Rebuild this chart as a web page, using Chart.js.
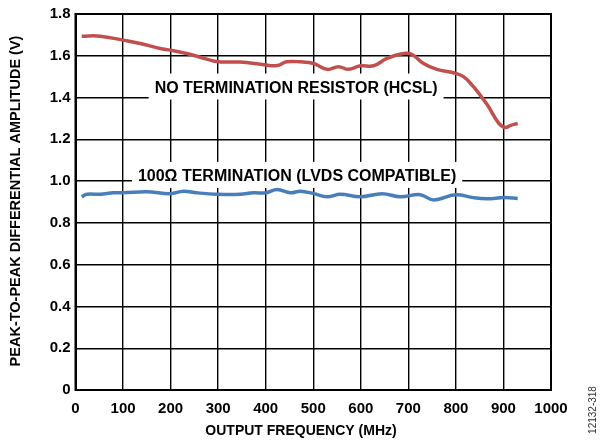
<!DOCTYPE html>
<html>
<head>
<meta charset="utf-8">
<script src="https://cdn.jsdelivr.net/npm/chart.js@4/dist/chart.umd.min.js"></script>
<style>
  html, body { margin: 0; padding: 0; background: #fff; }
  #wrap { width: 602px; height: 444px; position: relative; }
</style>
</head>
<body>
<div id="wrap"><canvas id="myChart" width="602" height="444"></canvas></div>
<script>
'use strict';

// no termination resistor (HCSL)
let hcslFreq = [13, 52, 100, 136, 178, 200, 234, 276, 300, 346, 400, 424, 444, 473, 501, 529, 553, 574, 599, 627, 655, 690, 708, 732, 760, 795, 816, 837, 866, 890, 904, 915, 930];
let hcslVolts = [1.694, 1.694, 1.675, 1.659, 1.635, 1.627, 1.611, 1.584, 1.571, 1.570, 1.556, 1.553, 1.571, 1.571, 1.563, 1.535, 1.548, 1.535, 1.552, 1.552, 1.587, 1.611, 1.606, 1.563, 1.535, 1.519, 1.500, 1.452, 1.365, 1.278, 1.257, 1.267, 1.276];

// 100 ohm termination (LVDS compatible)
let lvdsFreq = [13, 24, 52, 80, 100, 150, 200, 227, 255, 300, 346, 374, 400, 424, 452, 473, 501, 529, 557, 599, 645, 683, 725, 753, 799, 837, 866, 901, 930];
let lvdsVolts = [0.925, 0.937, 0.937, 0.944, 0.944, 0.949, 0.940, 0.952, 0.944, 0.937, 0.937, 0.944, 0.944, 0.960, 0.944, 0.952, 0.940, 0.925, 0.937, 0.925, 0.940, 0.925, 0.935, 0.910, 0.935, 0.921, 0.916, 0.921, 0.917];

let labelTexts = ['NO TERMINATION RESISTOR (HCSL)', '100\u03A9 TERMINATION (LVDS COMPATIBLE)'];
let xTitle = 'OUTPUT FREQUENCY (MHz)';
let yTitle = 'PEAK-TO-PEAK DIFFERENTIAL AMPLITUDE (V)';
let figureId = '12132-318';

let toPoints = function (xs, ys) {
    return xs.map((x, i) => ({ x: x, y: ys[i] }));
};

let fam = '"Liberation Sans", Arial, sans-serif';

let annotations = {
    id: 'annotations',
    beforeDatasetsDraw(chart) {
        let ctx = chart.ctx;
        let x = chart.scales.x;
        let y = chart.scales.y;
        ctx.save();
        ctx.font = 'bold 16px ' + fam;
        ctx.textAlign = 'center';
        ctx.textBaseline = 'middle';
        let items = [
            { text: labelTexts[0], fx: 464, v: 1.448 },
            { text: labelTexts[1], fx: 466, v: 1.025 }
        ];
        items.forEach(item => {
            let cx = x.getPixelForValue(item.fx);
            let cy = y.getPixelForValue(item.v);
            let w = ctx.measureText(item.text).width + 12;
            ctx.fillStyle = '#fff';
            ctx.fillRect(cx - w / 2, cy - 14, w, 26);
            ctx.fillStyle = '#000';
            ctx.fillText(item.text, cx, cy + 1);
        });
        // frame
        let a = chart.chartArea;
        ctx.strokeStyle = '#000';
        ctx.lineWidth = 2;
        ctx.strokeRect(a.left, a.top, a.right - a.left, a.bottom - a.top);
        ctx.restore();
    },
    afterDraw(chart) {
        let ctx = chart.ctx;
        ctx.save();
        ctx.fillStyle = '#000';
        ctx.textAlign = 'center';
        ctx.textBaseline = 'middle';
        ctx.font = 'bold 14px ' + fam;
        ctx.fillText(xTitle, 301, 431);

        ctx.save();
        ctx.translate(16, 201);
        ctx.rotate(-Math.PI / 2);
        ctx.font = 'bold 14.5px ' + fam;
        ctx.fillText(yTitle, 0, 0);
        ctx.restore();

        ctx.translate(593, 410);
        ctx.rotate(-Math.PI / 2);
        ctx.font = '10px ' + fam;
        ctx.fillStyle = '#333';
        ctx.fillText(figureId, 0, 0);
        ctx.restore();
    }
};

let tickFont = { family: fam, size: 15, weight: 'bold' };

let ctx = document.getElementById('myChart').getContext('2d');
let chart = new Chart(ctx, {
    type: 'line',
    data: {
        datasets: [{
            label: labelTexts[0],
            data: toPoints(hcslFreq, hcslVolts),
            borderColor: '#c0504d',
            borderWidth: 3.5,
            pointRadius: 0,
            tension: 0.4,
            fill: false
        }, {
            label: labelTexts[1],
            data: toPoints(lvdsFreq, lvdsVolts),
            borderColor: '#4a7ebb',
            borderWidth: 3.5,
            pointRadius: 0,
            tension: 0.4,
            fill: false
        }]
    },
    options: {
        responsive: false,
        animation: false,
        layout: { padding: { top: 12, right: 51, left: 0, bottom: 0 } },
        plugins: {
            legend: { display: false },
            tooltip: { enabled: false }
        },
        scales: {
            x: {
                type: 'linear',
                min: 0,
                max: 1000,
                ticks: {
                    stepSize: 100,
                    color: '#000',
                    font: tickFont,
                    maxRotation: 0,
                    padding: 10,
                    callback: v => String(v)
                },
                grid: { color: '#000', lineWidth: 1.4, drawTicks: false },
                border: { color: '#000', width: 2 },
                afterFit(scale) { scale.height = 54; }
            },
            y: {
                min: 0,
                max: 1.8,
                ticks: {
                    stepSize: 0.2,
                    color: '#000',
                    font: tickFont,
                    padding: 5,
                    callback: v => v === 0 ? '0' : v.toFixed(1)
                },
                grid: { color: '#000', lineWidth: 1.4, drawTicks: false },
                border: { color: '#000', width: 2 },
                afterFit(scale) { scale.width = 75.5; }
            }
        }
    },
    plugins: [annotations]
});
</script>
</body>
</html>
